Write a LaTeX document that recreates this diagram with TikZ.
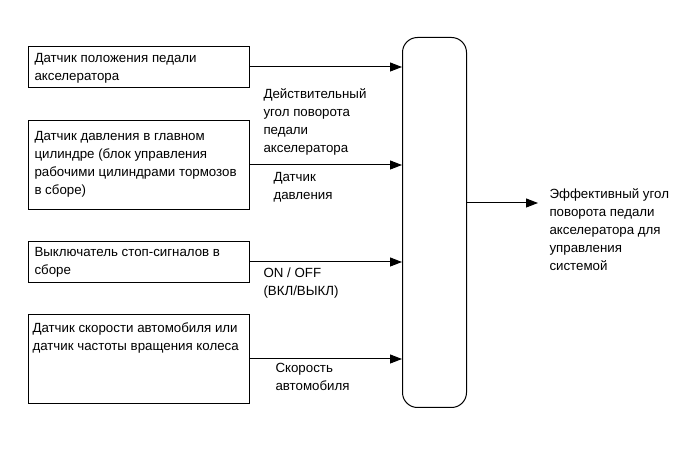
\documentclass[tikz,border=0pt]{standalone}
\usepackage{fontspec}
\setmainfont{Liberation Sans}
\usetikzlibrary{arrows.meta, positioning}

\begin{document}
\begin{tikzpicture}[x=1pt, y=-1pt, line width=1pt,
  sensor/.style={draw, rectangle, minimum width=221pt, anchor=north west, inner sep=0pt},
  txt/.style={anchor=north west, align=left, inner sep=0pt, font=\fontsize{13.3}{18}\selectfont},
  sig/.style={-{Triangle[length=12pt, width=9pt]}}]
\useasboundingbox (0,0) rectangle (689,465);

% Sensor boxes
\node[sensor, minimum height=41pt] (pedal) at (28,46) {};
\node[sensor, minimum height=89pt] (press) at (28,120) {};
\node[sensor, minimum height=41pt] (stop) at (28,241) {};
\node[sensor, minimum height=89pt] (speed) at (28,314) {};

% Box texts
\node[txt] (pedaltxt) at (34,53) {Датчик положения педали\\акселератора};
\node[txt] (presstxt) at (34,131) {Датчик давления в главном\\цилиндре (блок управления\\рабочими цилиндрами тормозов\\в сборе)};
\node[txt] (stoptxt) at (34,247) {Выключатель стоп-сигналов в\\сборе};
\node[txt] (speedtxt) at (32,322) {Датчик скорости автомобиля или\\датчик частоты вращения колеса};

% Control block
\node[draw, rounded corners=15pt, minimum width=64pt, minimum height=370pt,
  anchor=north west, inner sep=0pt] (ecu) at (402,37) {};

% Input signals
\draw[sig] (pedal.east) -- (pedal.east -| ecu.west);
\draw[sig] (press.east) -- (press.east -| ecu.west);
\draw[sig] (stop.east) -- (stop.east -| ecu.west);
\draw[sig] (speed.east) -- (speed.east -| ecu.west);

\node[txt] (angle) at (263,88) {Действительный\\угол поворота\\педали\\акселератора};
\node[txt] (pressig) at (273,172) {Датчик\\давления};
\node[txt] (onoff) at (263,267) {ON / OFF\\(ВКЛ/ВЫКЛ)};
\node[txt] (vspeed) at (275,363) {Скорость\\автомобиля};

% Output
\coordinate (outend) at (538,203);
\draw[sig] (ecu.east |- outend) -- (outend);
\node[txt] (effangle) at (549,188) {Эффективный угол\\поворота педали\\акселератора для\\управления\\системой};
\end{tikzpicture}
\end{document}
